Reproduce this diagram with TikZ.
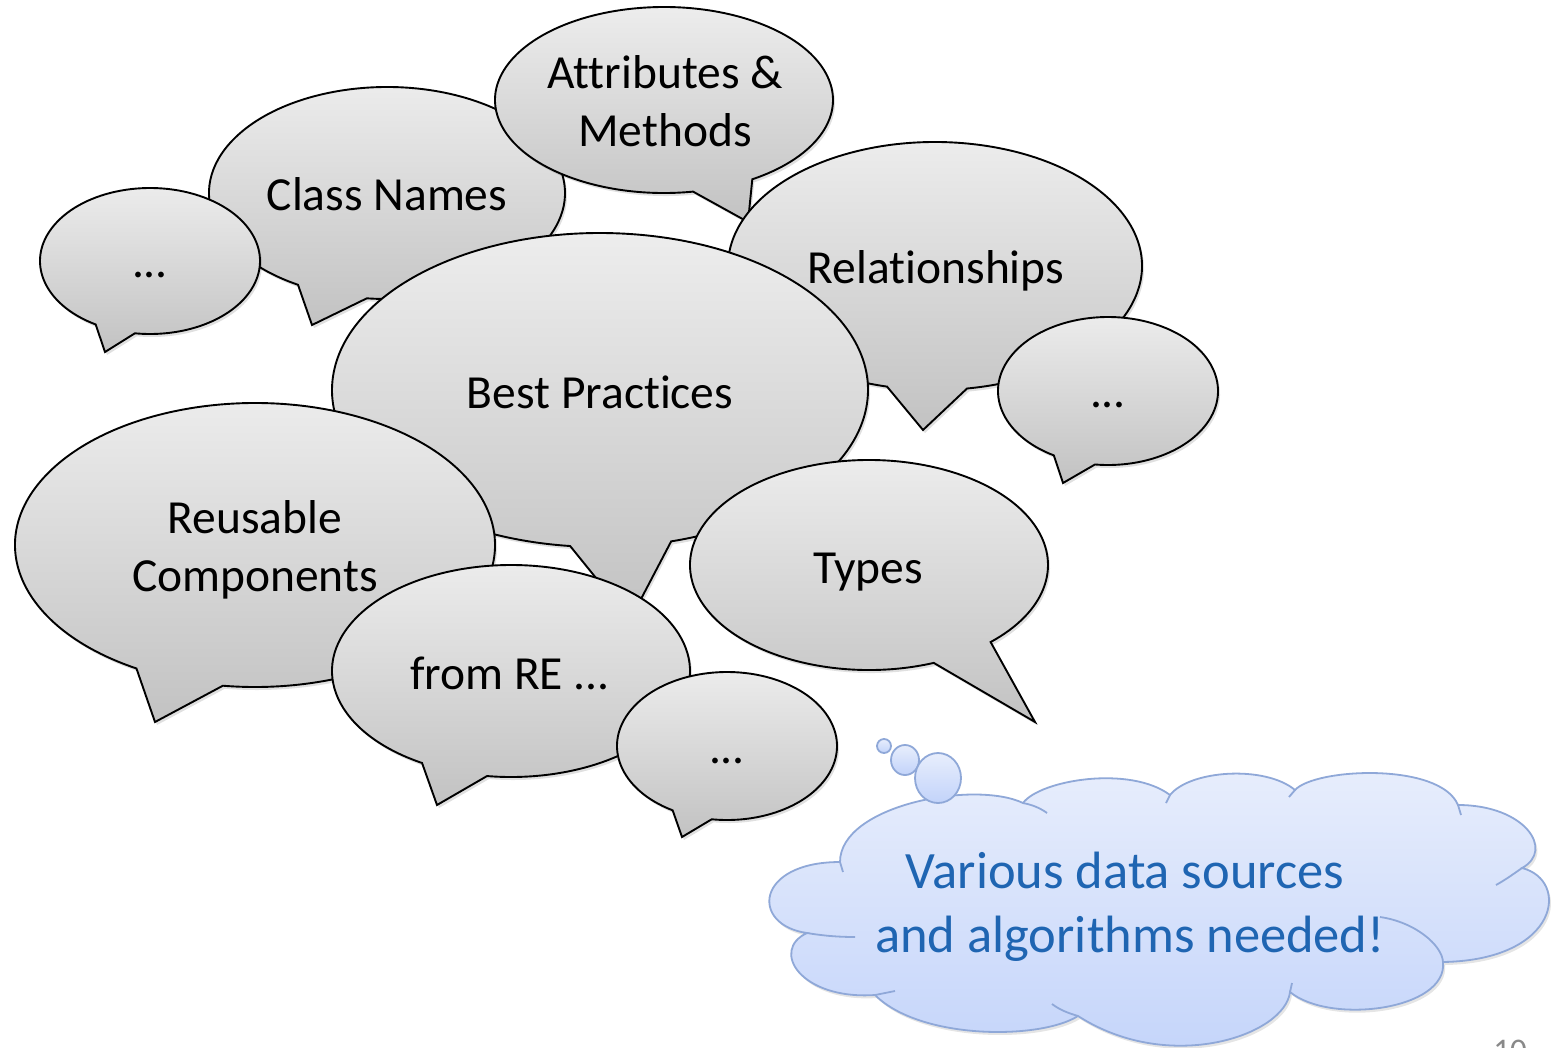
\documentclass[tikz,border=0pt]{standalone}
\usepackage{fontspec}
\setmainfont{Carlito}[Ligatures=CommonOff]
\definecolor{bubtop}{RGB}{238,238,238}
\definecolor{bubbot}{RGB}{194,194,194}
\definecolor{cldtop}{RGB}{232,238,252}
\definecolor{cldbot}{RGB}{194,211,250}
\definecolor{cldline}{RGB}{143,168,216}
\definecolor{cldtext}{RGB}{31,101,178}
\definecolor{pnum}{RGB}{137,137,137}
\newcommand{\bub}[9]{%
  \coordinate (#1) at (#2,#3);
  \fill[black,opacity=0.12,xshift=2pt,yshift=-3pt] ({#2+#4*cos(#6)},{#3+#5*sin(#6)}) arc[start angle=#6,end angle=#7,x radius=#4,y radius=#5] -- (#8,#9) -- cycle;
  \path[bubble] ({#2+#4*cos(#6)},{#3+#5*sin(#6)}) arc[start angle=#6,end angle=#7,x radius=#4,y radius=#5] -- (#8,#9) -- cycle;
}
\begin{document}
\begin{tikzpicture}[x=1pt,y=-1pt,
  bubble/.style={draw=black,line width=1.9pt,top color=bubtop,bottom color=bubbot},
  btxt/.style={font=\fontsize{47.5}{58}\selectfont,anchor=base,inner sep=0pt,text=black},
  ctxt/.style={font=\fontsize{52.5}{64}\selectfont,anchor=base,inner sep=0pt,text=cldtext},
  cloudsty/.style={draw=cldline,line width=1.8pt,top color=cldtop,bottom color=cldbot},
  crease/.style={draw=cldline,line width=1.8pt}]
\useasboundingbox (0,0) rectangle (1557,1047);
\clip (0,0) rectangle (1557,1047);
\fill[white] (0,0) rectangle (1557,1047);
% speech bubbles, back to front
\bub{cn}{387}{193}{178}{106}{120}{456.5}{312}{325}
\bub{dl}{150}{261}{110}{73}{119.6}{457.9}{105}{352}
\bub{am}{664}{100}{169}{93}{80.1}{418.5}{748}{222}
\bub{rel}{935}{266}{207}{124}{103.4}{441.1}{923}{430}
\bub{dr}{1108}{391}{110}{74}{119.5}{456.8}{1063}{483}
\bub{bp}{600}{390}{268}{157}{96.4}{434.6}{630}{620}
\bub{ru}{255}{545}{240}{142}{119.6}{457.7}{155}{722}
\bub{ty}{869}{565}{179}{105}{68.8}{407.2}{1035}{722}
\bub{fr}{511}{671}{179}{106}{119.8}{457.7}{437}{805}
\bub{db}{727}{746}{110}{74}{119.6}{458}{682}{837}
% texts
\node[btxt] (tcn) at (387,210) {Class Names};
\node[btxt] (tdl) at (150,277) {...};
\node[btxt] (tam1) at (665,88) {Attributes \&};
\node[btxt] (tam2) at (665,146) {Methods};
\node[btxt] (trel) at (936,283) {Relationships};
\node[btxt] (tdr) at (1108,407) {...};
\node[btxt] (tbp) at (600,408) {Best Practices};
\node[btxt] (tru1) at (255,533) {Reusable};
\node[btxt] (tru2) at (255,591) {Components};
\node[btxt] (tty) at (868,583) {Types};
\node[btxt] (tfr) at (510,689) {from RE ...};
\node[btxt] (tdb) at (727,763) {...};
% cloud
\fill[black,opacity=0.1,xshift=2pt,yshift=-3pt] (840,862) .. controls (840,805) and (975,780) .. (1023,803)
 .. controls (1040,780) and (1130,765) .. (1170,795)
 .. controls (1190,770) and (1265,765) .. (1295,790)
 .. controls (1315,768) and (1440,762) .. (1458,805)
 .. controls (1525,805) and (1555,850) .. (1522,868)
 .. controls (1570,880) and (1560,960) .. (1443,962)
 .. controls (1448,1010) and (1330,1025) .. (1290,992)
 .. controls (1285,1035) and (1170,1075) .. (1078,1016)
 .. controls (1040,1040) and (920,1040) .. (875,995)
 .. controls (800,1000) and (770,950) .. (807,933)
 .. controls (750,925) and (755,862) .. (840,862) -- cycle;
\path[cloudsty] (840,862) .. controls (840,805) and (975,780) .. (1023,803)
 .. controls (1040,780) and (1130,765) .. (1170,795)
 .. controls (1190,770) and (1265,765) .. (1295,790)
 .. controls (1315,768) and (1440,762) .. (1458,805)
 .. controls (1525,805) and (1555,850) .. (1522,868)
 .. controls (1570,880) and (1560,960) .. (1443,962)
 .. controls (1448,1010) and (1330,1025) .. (1290,992)
 .. controls (1285,1035) and (1170,1075) .. (1078,1016)
 .. controls (1040,1040) and (920,1040) .. (875,995)
 .. controls (800,1000) and (770,950) .. (807,933)
 .. controls (750,925) and (755,862) .. (840,862) -- cycle;
\draw[crease] (1023,803) .. controls (1033,805) and (1040,808) .. (1047,813);
\draw[crease] (1170,795) -- (1166,803);
\draw[crease] (1295,790) -- (1289,797);
\draw[crease] (1458,805) -- (1461,815);
\draw[crease] (1522,868) .. controls (1512,875) and (1505,880) .. (1496,885);
\draw[crease] (1443,962) .. controls (1442,945) and (1415,922) .. (1380,917);
\draw[crease] (1290,992) -- (1292,983);
\draw[crease] (1078,1016) .. controls (1068,1013) and (1060,1010) .. (1052,1004);
\draw[crease] (875,995) -- (895,991);
\draw[crease] (807,933) .. controls (825,936) and (840,937) .. (855,937);
\draw[crease] (840,862) -- (843,872);
% thought circles
\path[cloudsty] (884,746) circle[radius=7];
\path[cloudsty] (905,760) circle[x radius=14,y radius=15];
\path[cloudsty] (938,778) circle[x radius=23,y radius=25];
\node[ctxt] (c1) at (1125,888) {Various data sources};
\node[ctxt] (c2) at (1130,952) {and algorithms needed!};
\node[font=\fontsize{33}{40}\selectfont,text=pnum,anchor=base,inner sep=0pt] (pg) at (1510,1061) {10};
\end{tikzpicture}
\end{document}
